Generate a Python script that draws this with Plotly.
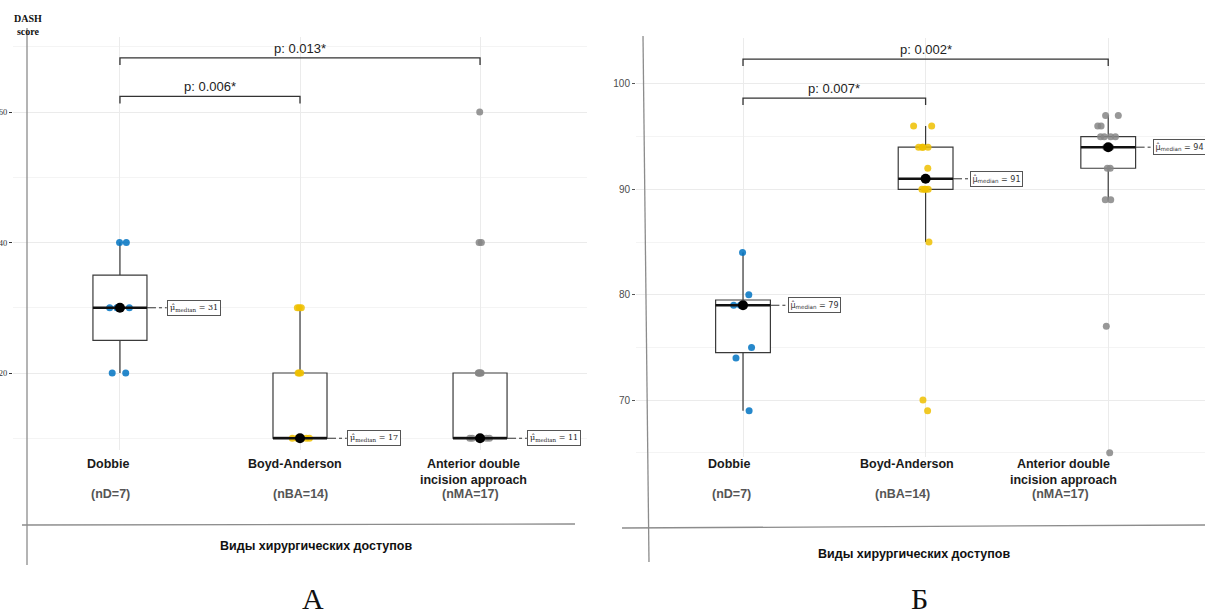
import numpy as np
import plotly.graph_objects as go

# ---------------- data ----------------
group_names = ["Dobbie", "Boyd-Anderson", "Anterior double<br>incision approach"]
n_labels = ["(nD=7)", "(nBA=14)", "(nMA=17)"]
group_colors = ["#0073C2", "#EFC000", "#868686"]

# Panel A (DASH score)
a_dobbie = [20, 20, 30, 30, 30, 40, 40]
a_boyd = [10, 10, 10, 10, 10, 10, 10, 10, 20, 20, 20, 30, 30, 30]
a_anterior = [10, 10, 10, 10, 10, 10, 10, 10, 10, 20, 20, 20, 20, 20, 40, 40, 60]
a_median_labels = ["31", "17", "11"]
a_pvalues = ["p: 0.006*", "p: 0.013*"]
a_ticks = [20, 40, 60]
a_minor_ticks = [10, 30, 50, 70]

# Panel Б
b_dobbie = [69, 74, 75, 79, 79, 80, 84]
b_boyd = [69, 70, 85, 90, 90, 90, 90, 92, 94, 94, 94, 94, 96, 96]
b_anterior = [65, 77, 89, 89, 92, 92, 94, 94, 94, 95, 95, 95, 95, 96, 96, 97, 97]
b_median_labels = ["79", "91", "94"]
b_pvalues = ["p: 0.007*", "p: 0.002*"]
b_ticks = [70, 80, 90, 100]
b_minor_ticks = [65, 75, 85, 95]

x_title = "Виды хирургических доступов"

W, H = 1205, 616


def px(xp):
    return xp / W


def py(yp):
    return 1 - yp / H


def stats(v):
    v = np.asarray(v, dtype=float)
    q1, med, q3 = np.percentile(v, [25, 50, 75])
    iqr = q3 - q1
    lo = v[v >= q1 - 1.5 * iqr].min()
    hi = v[v <= q3 + 1.5 * iqr].max()
    return q1, med, q3, lo, hi


fig = go.Figure()

BOXW = 0.3
GRID = "#ebebeb"
MINOR = "#f4f4f4"


def add_panel(xa, ya, groups, med_labels, pvals, br_levels, label_font, label_off, pad):
    xs = [1, 2, 3]
    st = [stats(g) for g in groups]
    fig.add_trace(go.Box(
        x=xs, q1=[s[0] for s in st], median=[s[1] for s in st], q3=[s[2] for s in st],
        lowerfence=[s[3] for s in st], upperfence=[s[4] for s in st],
        width=BOXW, whiskerwidth=0, fillcolor="white",
        line=dict(color="#3a3a3a", width=1.2), boxpoints=False,
        xaxis=xa, yaxis=ya, showlegend=False, hoverinfo="skip"))
    for i, (g, col) in enumerate(zip(groups, group_colors)):
        fig.add_trace(go.Box(
            x=[xs[i]] * len(g), y=g, boxpoints="all", jitter=0.45, pointpos=0,
            width=BOXW, whiskerwidth=0, fillcolor="rgba(0,0,0,0)",
            line=dict(color="rgba(0,0,0,0)", width=0),
            marker=dict(color=col, size=7, opacity=0.85),
            xaxis=xa, yaxis=ya, showlegend=False))
    for i, s in enumerate(st):
        x0 = xs[i]
        med = s[1]
        fig.add_trace(go.Scatter(x=[x0 - BOXW / 2, x0 + BOXW / 2], y=[med, med], mode="lines",
                                 line=dict(color="#111111", width=2.6), xaxis=xa, yaxis=ya,
                                 showlegend=False, hoverinfo="skip"))
        fig.add_trace(go.Scatter(x=[x0 + BOXW / 2, x0 + label_off], y=[med, med], mode="lines",
                                 line=dict(color="#333333", width=1, dash="dashdot"),
                                 xaxis=xa, yaxis=ya, showlegend=False, hoverinfo="skip"))
        fig.add_trace(go.Scatter(x=[x0], y=[med], mode="markers",
                                 marker=dict(color="black", size=10), xaxis=xa, yaxis=ya,
                                 showlegend=False, cliponaxis=False))
        fig.add_annotation(x=x0 + label_off, y=med, xref=xa, yref=ya, xanchor="left",
                           yanchor="middle", showarrow=False,
                           text="μ̂<sub>median</sub> = " + med_labels[i],
                           font=label_font, bordercolor="#555555", borderwidth=1,
                           borderpad=pad, bgcolor="white")
    pairs = [(1, 2), (1, 3)]
    for (a, b), p, (ytop, ytick) in zip(pairs, pvals, br_levels):
        fig.add_shape(type="path", xref=xa, yref=ya,
                      path=f"M {a},{ytick} L {a},{ytop} L {b},{ytop} L {b},{ytick}",
                      line=dict(color="#333333", width=1.3))
        fig.add_annotation(x=(a + b) / 2, y=ytop, xref=xa, yref=ya, xanchor="center",
                           yanchor="bottom", showarrow=False, text=p,
                           font=dict(family="Liberation Sans, Arial", size=13, color="#222222"))


add_panel("x", "y", [a_dobbie, a_boyd, a_anterior], a_median_labels, a_pvalues,
          [(62.4, 61.3), (68.3, 67.2)],
          dict(family="DejaVu Serif", size=8, color="#222222"), 0.26, 2)
add_panel("x2", "y2", [b_dobbie, b_boyd, b_anterior], b_median_labels, b_pvalues,
          [(98.66, 98.0), (102.35, 101.7)],
          dict(family="DejaVu Sans", size=8, color="#333333"), 0.245, 1.5)

# category labels (bold names + grey n)
name_font = dict(family="Liberation Sans, Arial", size=12.5, color="#1a1a1a")
n_font = dict(family="Liberation Sans, Arial", size=12.5, color="#555555")
cat_name_x = [[108, 295, 473], [729, 907, 1063]]
cat_n_x = [[110, 300, 470], [731, 902, 1060]]
for pi in range(2):
    for i in range(3):
        fig.add_annotation(x=px(cat_name_x[pi][i]), y=py(455), xref="paper", yref="paper",
                           xanchor="center", yanchor="top", showarrow=False,
                           text="<b>" + group_names[i] + "</b>", font=name_font)
        fig.add_annotation(x=px(cat_n_x[pi][i]), y=py(494), xref="paper", yref="paper",
                           xanchor="center", yanchor="middle", showarrow=False,
                           text="<b>" + n_labels[i] + "</b>", font=n_font)

# axis titles
for cx, cy in [(316, 546), (914, 554)]:
    fig.add_annotation(x=px(cx), y=py(cy), xref="paper", yref="paper", showarrow=False,
                       xanchor="center", yanchor="middle",
                       text="<b>" + x_title + "</b>",
                       font=dict(family="Liberation Sans, Arial", size=12.5, color="#111111"))

# y title panel A
fig.add_annotation(x=px(28), y=py(11), xref="paper", yref="paper", xanchor="center",
                   yanchor="top", showarrow=False, text="<b>DASH<br>score</b>",
                   font=dict(family="Liberation Serif, Times New Roman", size=10, color="#111111"))

# panel letters
for cx, t in [(313, "А"), (919, "Б")]:
    fig.add_annotation(x=px(cx), y=py(598), xref="paper", yref="paper", showarrow=False,
                       xanchor="center", yanchor="middle",
                       text=t, font=dict(family="Liberation Serif, Times New Roman", size=30,
                                         color="#111111"))

# drawn axis lines
line_style = dict(color="#8c8c8c", width=1.3)
for (x0, y0, x1, y1) in [(27, 28, 27, 565), (22, 525, 575, 524),
                         (643, 36, 649, 562), (622, 528, 1205, 525)]:
    fig.add_shape(type="line", xref="paper", yref="paper",
                  x0=px(x0), y0=py(y0), x1=px(x1), y1=py(y1), line=line_style)

fig.update_layout(
    width=W, height=H, margin=dict(l=0, r=0, t=0, b=0),
    paper_bgcolor="white", plot_bgcolor="white", boxmode="overlay", showlegend=False,
    xaxis=dict(domain=[px(13), px(587)], range=[0.406, 3.594], type="linear",
               tickvals=[1, 2, 3], showticklabels=False, ticks="", showgrid=True,
               gridcolor=GRID, zeroline=False, showline=False),
    yaxis=dict(domain=[py(450), py(37)], range=[8.2, 71.5], tickvals=a_ticks,
               ticks="outside", ticklen=3, tickcolor="#333333", showgrid=True,
               gridcolor=GRID, zeroline=False, showline=False,
               tickfont=dict(family="Liberation Serif, Times New Roman", size=8.5, color="#333333"),
               minor=dict(tickvals=a_minor_ticks, showgrid=True, gridcolor=MINOR, ticks="")),
    xaxis2=dict(domain=[px(636), 1.0], range=[0.414, 3.53], type="linear", anchor="y2",
                tickvals=[1, 2, 3], showticklabels=False, ticks="", showgrid=True,
                gridcolor=GRID, zeroline=False, showline=False),
    yaxis2=dict(domain=[py(457), py(38)], range=[64.6, 104.36], anchor="x2",
                tickvals=b_ticks, ticks="outside", ticklen=3, tickcolor="#555555",
                showgrid=True, gridcolor=GRID, zeroline=False, showline=False,
                tickfont=dict(family="Liberation Sans, Arial", size=10, color="#4d4d4d"),
                minor=dict(tickvals=b_minor_ticks, showgrid=True, gridcolor=MINOR, ticks="")),
)

fig.write_html("out.html")
